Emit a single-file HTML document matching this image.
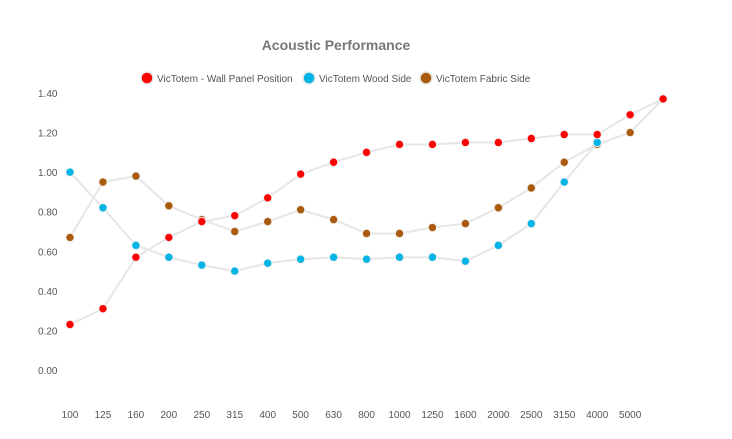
<!DOCTYPE html>
<html><head><meta charset="utf-8">
<style>
html,body{margin:0;padding:0;background:#fff;}
svg{display:block;font-family:"Liberation Sans",sans-serif;}
</style></head>
<body>
<svg id="chart" width="732" height="439">
<text x="336" y="50" text-anchor="middle" font-size="14" font-weight="bold" fill="#777">Acoustic Performance</text>
<g>
 <g>
  <circle cx="147" cy="78" r="6" fill="#ff0000" stroke="#e6e6e6" stroke-width="1.5"/>
  <text x="157" y="82" font-size="10" fill="#555">VicTotem - Wall Panel Position</text>
 </g>
 <g>
  <circle cx="309" cy="78" r="6" fill="#00b5e5" stroke="#e6e6e6" stroke-width="1.5"/>
  <text x="319" y="82" font-size="10" fill="#555">VicTotem Wood Side</text>
 </g>
 <g>
  <circle cx="426" cy="78" r="6" fill="#a95a0c" stroke="#e6e6e6" stroke-width="1.5"/>
  <text x="436" y="82" font-size="10" fill="#555">VicTotem Fabric Side</text>
 </g>
</g>
<g id="yaxis"></g>
<g id="xaxis"></g>
<g id="plot"></g>
</svg>
<script>
const categories = ["100","125","160","200","250","315","400","500","630","800","1000","1250","1600","2000","2500","3150","4000","5000",""];
const wallPanel = [0.23,0.31,0.57,0.67,0.75,0.78,0.87,0.99,1.05,1.10,1.14,1.14,1.15,1.15,1.17,1.19,1.19,1.29,1.37];
const woodSide = [1.00,0.82,0.63,0.57,0.53,0.50,0.54,0.56,0.57,0.56,0.57,0.57,0.55,0.63,0.74,0.95,1.15,null,null];
const fabricSide = [0.67,0.95,0.98,0.83,0.76,0.70,0.75,0.81,0.76,0.69,0.69,0.72,0.74,0.82,0.92,1.05,1.14,1.20,1.37];
const yTicks = [0,0.2,0.4,0.6,0.8,1.0,1.2,1.4];

const NS="http://www.w3.org/2000/svg";
function x(i){return 70+i*32.95;}
function y(v){return 370-v*(277/1.4);}
function mk(tag,attrs,parent){const e=document.createElementNS(NS,tag);for(const k in attrs)e.setAttribute(k,attrs[k]);parent.appendChild(e);return e;}

const ya=document.getElementById('yaxis');
yTicks.forEach(t=>{
 const e=mk('text',{x:38,y:y(t)+4,'font-size':10,fill:'#555','text-anchor':'start'},ya);
 e.textContent=t.toFixed(2);
 
 
});
const xa=document.getElementById('xaxis');
categories.forEach((c,i)=>{
 if(!c)return;
 const e=mk('text',{x:x(i),y:418,'font-size':10,fill:'#555','text-anchor':'middle'},xa);
 e.textContent=c;
 
 
});
const plot=document.getElementById('plot');
const series=[["fabric-side",fabricSide,"#a95a0c"],["wood-side",woodSide,"#00b5e5"],["wall-panel",wallPanel,"#ff0000"]];
series.forEach(([n,d])=>{
 const pts=[];
 d.forEach((v,i)=>{if(v!==null)pts.push(x(i)+','+y(v));});
 const p=mk('polyline',{points:pts.join(' '),fill:'none',stroke:'#e6e6e6','stroke-width':2},plot);
 
 
});
series.forEach(([n,d,col])=>{
 d.forEach((v,i)=>{
  if(v===null)return;
  const c=mk('circle',{cx:x(i),cy:y(v),r:4.2,fill:col,stroke:'#f0f0f0','stroke-width':1},plot);
  
  
 });
});
</script>
</body></html>
